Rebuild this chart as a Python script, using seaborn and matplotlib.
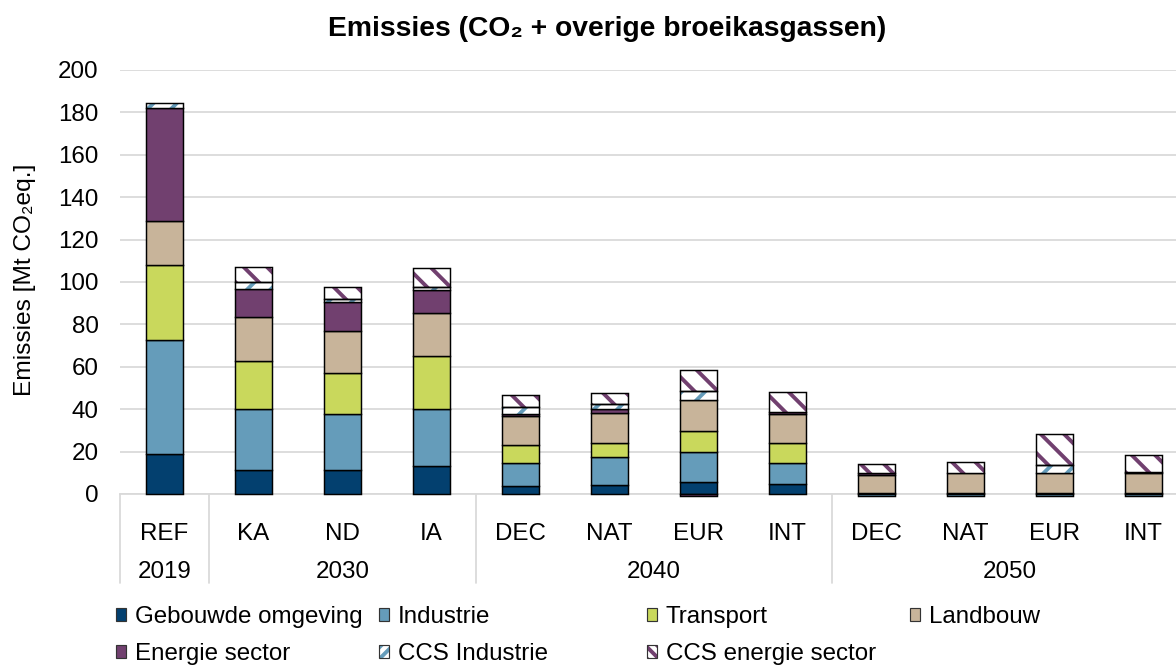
import numpy as np
import matplotlib
matplotlib.use("Agg")
import matplotlib.pyplot as plt
from matplotlib.patches import Patch
from matplotlib.legend_handler import HandlerTuple
import seaborn as sns

# Data (Mt CO2-eq)
categories = ["REF", "KA", "ND", "IA", "DEC", "NAT", "EUR", "INT", "DEC", "NAT", "EUR", "INT"]
years = ["2019", "2030", "2040", "2050"]
year_spans = [(0, 0), (1, 3), (4, 7), (8, 11)]

gebouwde  = [19.0, 11.3, 11.3, 13.2, 3.9, 4.1, 5.7, 4.6, 0.6, 0.6, 0.6, 0.6]
industrie = [53.6, 28.7, 26.3, 26.8, 10.9, 13.2, 14.0, 10.2, -1.0, -1.0, -1.0, -1.0]
transport = [35.4, 22.7, 19.3, 25.2, 8.5, 6.8, 10.2, 9.1, 0, 0, 0, 0]
landbouw  = [20.9, 20.9, 20.1, 20.3, 13.5, 14.3, 14.4, 13.7, 8.4, 9.2, 9.2, 9.2]
energie   = [53.3, 12.9, 13.4, 10.7, 0.9, 1.6, -0.8, 1.2, 0.8, 0, 0, 0.7]
ccs_ind   = [2.4, 3.3, 1.7, 1.6, 3.2, 2.5, 4.3, 0, 0, 0, 4.0, 0]
ccs_en    = [0, 7.4, 5.7, 8.7, 5.9, 5.3, 10.0, 9.1, 4.4, 5.2, 14.5, 7.9]

NAVY   = "#03406F"
BLAUW  = "#659CBA"
GROEN  = "#C9D85C"
BEIGE  = "#C8B49A"
PAARS  = "#71406F"
RASTER = "#D9D9D9"

series = [
    ("Gebouwde omgeving", gebouwde, NAVY, None),
    ("Industrie", industrie, BLAUW, None),
    ("Transport", transport, GROEN, None),
    ("Landbouw", landbouw, BEIGE, None),
    ("Energie sector", energie, PAARS, None),
    ("CCS Industrie", ccs_ind, BLAUW, "//"),
    ("CCS energie sector", ccs_en, PAARS, "\\\\"),
]

sns.set_theme(style="white")
plt.rcParams.update({
    "font.family": ["Liberation Sans", "DejaVu Sans"],
    "hatch.linewidth": 2.0,
    "text.color": "black",
    "xtick.color": "black",
    "ytick.color": "black",
})

W, H, DPI = 1176, 666, 140
FS = 12.4
fig = plt.figure(figsize=(W / DPI, H / DPI), dpi=DPI)
ax = fig.add_axes([120 / W, 1 - 494 / H, (W - 120) / W, (494 - 70) / H])

x = np.arange(len(categories))
breedte = 0.405
pos_bottom = np.zeros(len(x))
neg_bottom = np.zeros(len(x))
handles = {}

for naam, waarden, kleur, hatch in series:
    v = np.array(waarden, dtype=float)
    bottom = np.where(v >= 0, pos_bottom, neg_bottom)
    mask = v != 0
    if hatch is None:
        ax.bar(x[mask], v[mask], bottom=bottom[mask], width=breedte, color=kleur,
               edgecolor="black", linewidth=0.75, zorder=3, clip_on=False)
        handles[naam] = Patch(facecolor=kleur, edgecolor="#333333", linewidth=0.6)
    else:
        ax.bar(x[mask], v[mask], bottom=bottom[mask], width=breedte, color="white",
               edgecolor=kleur, hatch=hatch, linewidth=0, zorder=3, clip_on=False)
        ax.bar(x[mask], v[mask], bottom=bottom[mask], width=breedte, color="none",
               edgecolor="black", linewidth=0.75, zorder=4, clip_on=False)
        # in het kleine legendablokje een dichtere arcering, anders valt er geen streep in
        handles[naam] = (Patch(facecolor="white", edgecolor=kleur, hatch=hatch * 2, linewidth=0),
                         Patch(facecolor="none", edgecolor="#333333", linewidth=0.6))
    pos_bottom = np.where(v > 0, pos_bottom + v, pos_bottom)
    neg_bottom = np.where(v < 0, neg_bottom + v, neg_bottom)

# assen
ax.set_xlim(-0.5, -0.5 + (W - 120) / 89)
ax.set_ylim(0, 200)
ax.set_yticks(np.arange(0, 201, 20))
ax.yaxis.grid(True, color=RASTER, linewidth=0.9, zorder=0)
ax.set_axisbelow(True)
sns.despine(ax=ax, left=True, top=True, right=True)
ax.spines["bottom"].set_color(RASTER)
ax.spines["bottom"].set_linewidth(0.9)
ax.tick_params(axis="y", length=0, pad=11, labelsize=FS)
ax.set_xticks(x, categories)
ax.tick_params(axis="x", length=0, pad=15, labelsize=FS)

# jaartallen en scheidingslijnen onder de as
trans = ax.get_xaxis_transform()
for jaar, (a, b) in zip(years, year_spans):
    ax.text((a + b) / 2, (494 - 561) / 424, jaar, transform=trans,
            ha="center", va="top", fontsize=FS)
for xs in [-0.5, 0.5, 3.5, 7.5]:
    ax.plot([xs, xs], [0, (494 - 583) / 424], transform=trans, color=RASTER,
            linewidth=0.9, clip_on=False)

fig.text(607 / W, 1 - 29 / H, "Emissies (CO\u2082 + overige broeikasgassen)",
         ha="center", va="center", fontsize=14.5, fontweight="bold")
fig.text(25 / W, 1 - 280 / H, "Emissies [Mt CO\u2082eq.]", rotation=90,
         ha="center", va="center", fontsize=12.6)

# legenda: vier kolommen met gelijke breedte
kolommen = [
    (116, ["Gebouwde omgeving", "Energie sector"]),
    (379, ["Industrie", "CCS Industrie"]),
    (647, ["Transport", "CCS energie sector"]),
    (910, ["Landbouw"]),
]
for xk, namen in kolommen:
    fig.legend([handles[n] for n in namen], namen, loc="upper left",
                bbox_to_anchor=(xk / W, 1 - 606 / H), frameon=False,
                fontsize=FS, handlelength=0.42, handleheight=0.42,
                handletextpad=0.35, labelspacing=0.62, borderpad=0,
                borderaxespad=0, handler_map={tuple: HandlerTuple(ndivide=1)})

fig.savefig("out.png", dpi=DPI, facecolor="white")
